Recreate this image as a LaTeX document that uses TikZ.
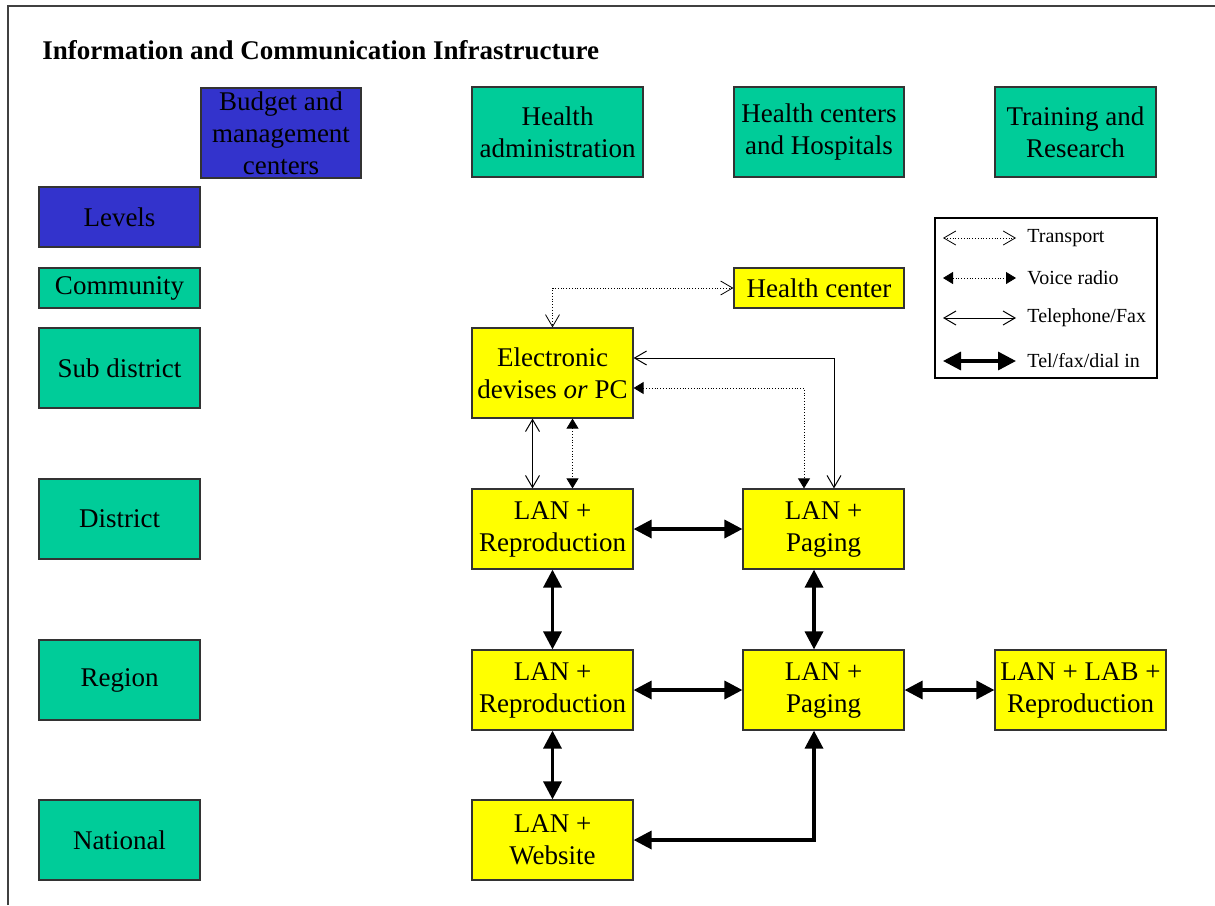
\documentclass[tikz,border=0pt]{standalone}
\usepackage{fontspec}
\setmainfont{Liberation Serif}
\usetikzlibrary{arrows.meta,positioning,calc}
\definecolor{lvlblue}{RGB}{51,51,204}
\definecolor{lvlgreen}{RGB}{0,204,153}
\definecolor{sysyellow}{RGB}{255,255,0}

\begin{document}
\begin{tikzpicture}[x=0.5pt,y=-0.5pt,
  box/.style={draw=black!80, line width=0.6pt, inner sep=0pt, align=center, font=\fontsize{13.5}{16}\selectfont},
  bluebox/.style={box, fill=lvlblue},
  greenbox/.style={box, fill=lvlgreen, minimum width=80.5pt, minimum height=40pt},
  yellowbox/.style={box, fill=sysyellow, minimum width=80.5pt, minimum height=40pt},
  transport/.style={densely dotted, line width=0.4pt, {Straight Barb[length=6pt,width=7pt]}-{Straight Barb[length=6pt,width=7pt]}},
  voice/.style={densely dotted, line width=0.4pt, {Triangle[length=5pt,width=6pt]}-{Triangle[length=5pt,width=6pt]}},
  phone/.style={line width=0.5pt, {Straight Barb[length=6pt,width=7pt]}-{Straight Barb[length=6pt,width=7pt]}},
  dial/.style={line width=1.7pt, {Triangle[length=9pt,width=9pt]}-{Triangle[length=9pt,width=9pt]}},
  legtext/.style={anchor=west, inner sep=0pt, font=\fontsize{10}{12}\selectfont}]
  \useasboundingbox (0,0) rectangle (1215,905);
  % --- frame and title
  \draw[line width=1pt, black!75] (8,905) -- (8,6) -- (1215,6);
  \node[anchor=base west, inner sep=0pt, font=\fontsize{13.5}{16}\selectfont\bfseries] (title) at (42,59) {Information and Communication Infrastructure};
  % --- centers (columns)
  \node[bluebox, minimum width=80pt, minimum height=45pt] (budget) at (281,133) {Budget and\\management\\centers};
  \node[greenbox, minimum width=85.5pt, minimum height=45pt] (hadmin) at (557.5,132) {Health\\administration};
  \node[greenbox, minimum width=85pt, minimum height=45pt] (hcent) at (819,132) {Health centers\\and Hospitals};
  \node[greenbox, minimum height=45pt] (train) at (1075.5,132) {Training and\\Research};
  % --- levels (rows)
  \node[bluebox, minimum width=80.5pt, minimum height=30pt] (levels) at (119.5,217) {Levels};
  \node[greenbox, minimum height=20pt] (comm) at (119.5,288) {Community};
  \node[greenbox] (subd) at (119.5,368) {Sub district};
  \node[greenbox] (dist) at (119.5,519) {District};
  \node[greenbox] (reg) at (119.5,680) {Region};
  \node[greenbox] (nat) at (119.5,840) {National};
  % --- systems
  \node[yellowbox, minimum width=85pt, minimum height=20pt] (hc) at (819,288) {Health center};
  \node[yellowbox, minimum height=45pt] (edev) at (552.5,373) {Electronic\\devises \textit{or} PC};
  \node[yellowbox] (lrepd) at (552.5,529) {LAN +\\Reproduction};
  \node[yellowbox] (lpagd) at (823.5,529) {LAN +\\Paging};
  \node[yellowbox] (lrepr) at (552.5,690) {LAN +\\Reproduction};
  \node[yellowbox] (lpagr) at (823.5,690) {LAN +\\Paging};
  \node[yellowbox, minimum width=85.5pt] (llab) at (1080.5,690) {LAN + LAB +\\Reproduction};
  \node[yellowbox] (lweb) at (552.5,840) {LAN +\\Website};
  % --- links
  \draw[transport] (hc.west) -| (edev.north);
  \draw[phone] ([yshift=7.5pt]edev.east) -| ([xshift=5.25pt]lpagd.north);
  \draw[voice] ([yshift=-7.5pt]edev.east) -| ([xshift=-9.75pt]lpagd.north);
  \draw[phone] ([xshift=-10pt]edev.south) -- ([xshift=-10pt]lrepd.north);
  \draw[voice] ([xshift=10pt]edev.south) -- ([xshift=10pt]lrepd.north);
  \draw[dial] (lrepd.east) -- (lpagd.west);
  \draw[dial] (lrepd.south) -- (lrepr.north);
  \draw[dial] ([xshift=-4.75pt]lpagd.south) -- ([xshift=-4.75pt]lpagr.north);
  \draw[dial] (lrepr.east) -- (lpagr.west);
  \draw[dial] (lpagr.east) -- (llab.west);
  \draw[dial] (lrepr.south) -- (lweb.north);
  \draw[dial] (lweb.east) -| ([xshift=-4.75pt]lpagr.south);
  % --- legend
  \node[draw=black, line width=0.6pt, minimum width=111pt, minimum height=80pt] (legend) at (1046,298) {};
  \node[legtext] (ltrans) at (1027,238) {Transport};
  \node[legtext] (lvoice) at (1027,278) {Voice radio};
  \node[legtext] (lphone) at (1027,318) {Telephone/Fax};
  \node[legtext] (ldial) at (1027,361) {Tel/fax/dial in};
  \draw[transport] ([xshift=-42pt]ltrans.west) -- ([xshift=-5.5pt]ltrans.west);
  \draw[voice] ([xshift=-42pt]lvoice.west) -- ([xshift=-5.5pt]lvoice.west);
  \draw[phone] ([xshift=-42pt]lphone.west) -- ([xshift=-5.5pt]lphone.west);
  \draw[dial] ([xshift=-42pt]ldial.west) -- ([xshift=-5.5pt]ldial.west);
\end{tikzpicture}
\end{document}
